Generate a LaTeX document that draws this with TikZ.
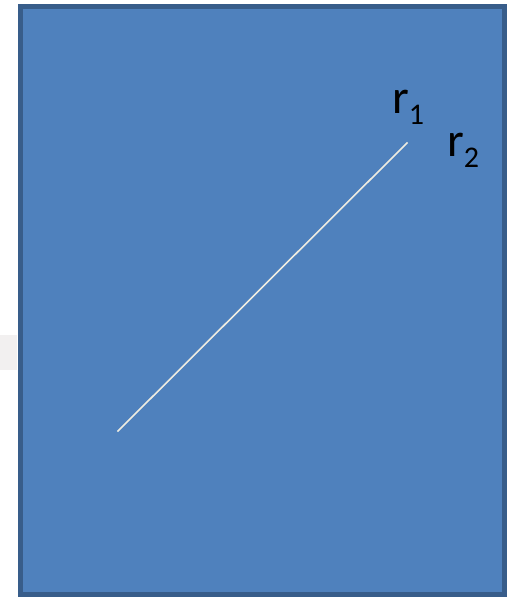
\documentclass[tikz,border=0pt]{standalone}
\usepackage{fontspec}
\setmainfont{Carlito}
\usepackage{xcolor}
\definecolor{panelblue}{RGB}{79,129,189}
\definecolor{panelrim}{RGB}{56,93,138}
\definecolor{raycol}{RGB}{238,236,225}
\definecolor{bandgray}{RGB}{242,240,240}
\usepackage{tikz}
\usetikzlibrary{positioning}

\begin{document}
\begin{tikzpicture}[
  x=1pt, y=-1pt,
  panel/.style={fill=panelblue, draw=panelrim, line width=5pt},
  ray/.style={draw=raycol, line width=1.6pt},
  rlabel/.style={anchor=base west, inner sep=0pt, font=\fontsize{48}{48}\selectfont}
]
\useasboundingbox (0,0) rectangle (507,597);
\fill[bandgray] (0,335) rectangle (17,370);
\draw[panel] (20.5,6.5) rectangle (504.5,594.5);
\coordinate (rayA) at (117.5,431.5);
\coordinate (rayB) at (407.5,142.5);
\draw[ray] (rayA) -- (rayB);
\node[rlabel] (rone) at (392,113) {r\raisebox{-11pt}{\fontsize{30}{30}\selectfont 1}};
\node[rlabel] (rtwo) at (447,156) {r\raisebox{-11pt}{\fontsize{30}{30}\selectfont 2}};
\end{tikzpicture}
\end{document}
